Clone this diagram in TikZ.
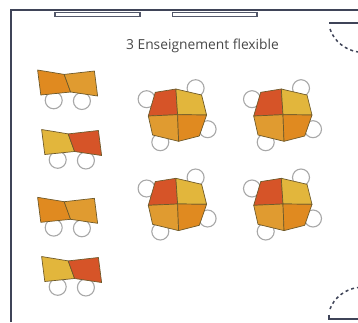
\documentclass[tikz,border=0pt]{standalone}
\usepackage{fontspec}
\setmainfont{Open Sans}
\definecolor{cred}{HTML}{D65428}
\definecolor{cyel}{HTML}{E2B63C}
\definecolor{cora}{HTML}{E08A20}
\definecolor{clig}{HTML}{E09B30}
\definecolor{wall}{HTML}{3F4458}
\definecolor{seat}{HTML}{A8A8A8}
\definecolor{edge}{HTML}{6F5A2A}
\tikzset{
  seatc/.style={draw=seat,line width=1.1pt,fill=white,circle,minimum size=17pt,inner sep=0pt},
  piece/.style={draw=edge,line width=0.7pt,line join=round},
  wallline/.style={draw=wall,line width=2pt},
  windowbox/.style={draw=wall!90,line width=1.4pt,fill=white},
  doorarc/.style={draw=wall,line width=1.5pt,dash pattern=on 3pt off 3pt},
  doorbar/.style={draw=wall,line width=2pt}
}
\newcommand{\octotable}[2]{%
\begin{scope}[shift={(#1,#2)}]
  \node[seatc] at (18,-26.5) {};
  \node[seatc] at (-31,-15.5) {};
  \node[seatc] at (30,14.5) {};
  \node[seatc] at (-17.3,27.5) {};
  \filldraw[piece,fill=cred] (-1.7,-25.7) -- (-22.3,-22.4) -- (-29.3,1.3) -- (0,0) -- cycle;
  \filldraw[piece,fill=cyel] (-1.7,-25.7) -- (24,-19.7) -- (29,0.3) -- (0,0) -- cycle;
  \filldraw[piece,fill=clig] (-29.3,1.3) -- (-25,20.3) -- (1,26.6) -- (0,0) -- cycle;
  \filldraw[piece,fill=cora] (29,0.3) -- (21.7,21.3) -- (1,26.6) -- (0,0) -- cycle;
\end{scope}}
\newcommand{\pairtable}[5]{%
\begin{scope}[shift={(#1,#2)}]
  \node[seatc] at (53.7,30.3) {};
  \node[seatc] at (81.9,31) {};
  \filldraw[piece,fill=#3] (37.6,0) -- (64.2,4.4) -- (70.6,22) -- (40.8,25) -- cycle;
  \filldraw[piece,fill=#4] (64.2,4.4) -- (94.4,1) -- (97.6,26) -- (70.6,22) -- cycle;
\end{scope}}
\begin{document}
\begin{tikzpicture}[x=1pt,y=-1pt]
\useasboundingbox (0,0) rectangle (358,322);
\draw[wallline] (10.5,322) -- (10.5,9.5) -- (358,9.5);
\draw[windowbox] (55,12.7) rectangle (140,16.5);
\draw[windowbox] (172.5,12.7) rectangle (257,16.5);
\node[text=black!72,font=\fontsize{13.8}{16}\selectfont,inner sep=0pt] (title) at (202.5,46) {3 Enseignement flexible};
\pairtable{0}{70}{cora}{clig}{}
\pairtable{4}{129.5}{cyel}{cred}{}
\pairtable{0}{197.3}{cora}{clig}{}
\pairtable{4}{256.5}{cyel}{cred}{}
\octotable{177.6}{114.7}
\octotable{283}{114.7}
\octotable{177.6}{204}
\octotable{283}{204}
\draw[doorbar] (329,23) -- (358,23);
\draw[doorarc] (330,29) .. controls (334,41) and (345,50) .. (358,52);
\draw[doorbar] (329,314.5) -- (329,318.5) -- (358,318.5);
\draw[doorarc] (330,309) .. controls (334,298) and (345,289) .. (358,287.5);
\end{tikzpicture}
\end{document}
